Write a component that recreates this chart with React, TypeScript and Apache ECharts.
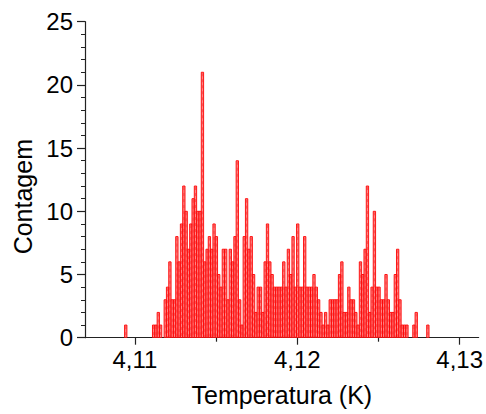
import React, { useEffect, useRef } from "react";
import * as echarts from "echarts";

// Histogram bins (temperature, K)
const BIN_START = 4.109368;
const BIN_WIDTH = 0.0001431;
const COUNTS: number[] = [
  1,
  0, 0, 0, 0, 0, 0, 0, 0, 0, 0, 0,
  1, 1, 2, 1, 0,
  3, 4, 6, 3, 3, 8, 6,
  9, 12, 10, 7, 9, 11, 12, 10, 10,
  21,
  6, 7, 8, 7, 9, 8, 5, 4, 7, 7, 3, 7, 6, 8,
  14,
  3, 1, 8, 11, 7, 8, 5, 2, 4, 4, 2, 6, 9,
  6, 5, 4, 4, 4, 4, 6, 4, 7, 5, 8, 4, 9, 4, 4, 8, 4, 4, 4, 5,
  4, 3, 2, 1, 2, 1, 3, 3, 3, 3, 5, 6, 2, 2, 4, 3, 3, 2, 1, 6, 5, 7, 12, 2, 4, 10,
  4, 4, 3, 3, 5, 3, 2, 2, 5, 7, 3, 1, 1, 1, 0, 0, 1, 2, 0, 0, 0, 0, 1,
];

const X_MIN = 4.10693;
const X_MAX = 4.13117;
const X_MAJOR = [4.11, 4.12, 4.13];
const X_MINOR = [4.115, 4.125];
const Y_MIN = 0;
const Y_MAX = 25;
const Y_INTERVAL = 5;

const X_TITLE = "Temperatura (K)";
const Y_TITLE = "Contagem";

const FONT = "'Liberation Sans', Arial, Helvetica, sans-serif";

export default function App() {
  const ref = useRef<HTMLDivElement>(null);

  useEffect(() => {
    if (!ref.current) return;
    const chart = echarts.init(ref.current, undefined, { renderer: "svg" });
    const data = COUNTS.map((c, i) => [BIN_START + i * BIN_WIDTH, c]);
    const axisColor = "#222";
    chart.setOption({
      animation: false,
      backgroundColor: "#ffffff",
      grid: { left: 85, top: 21.7, right: 6, bottom: 76.3, containLabel: false },
      xAxis: [
        {
          type: "value",
          min: X_MIN,
          max: X_MAX,
          name: X_TITLE,
          nameLocation: "middle",
          nameGap: 45,
          nameTextStyle: { fontSize: 25, fontFamily: FONT, color: "#000" },
          axisLine: { show: true, onZero: false, lineStyle: { color: axisColor, width: 1.2 } },
          axisTick: { show: true, length: 7, customValues: X_MAJOR, lineStyle: { color: axisColor, width: 1.2 } },
          axisLabel: {
            show: true,
            customValues: X_MAJOR,
            margin: 10,
            fontSize: 24,
            fontFamily: FONT,
            color: "#000",
            formatter: (v: number) => v.toFixed(2).replace(".", ","),
          },
          splitLine: { show: false },
        },
        {
          type: "value",
          min: X_MIN,
          max: X_MAX,
          position: "bottom",
          axisLine: { show: false },
          axisTick: { show: true, length: 4, customValues: X_MINOR, lineStyle: { color: axisColor, width: 1.2 } },
          axisLabel: { show: false },
          splitLine: { show: false },
        },
      ],
      yAxis: {
        type: "value",
        min: Y_MIN,
        max: Y_MAX,
        interval: Y_INTERVAL,
        name: Y_TITLE,
        nameLocation: "middle",
        nameGap: 47,
        nameTextStyle: { fontSize: 25, fontFamily: FONT, color: "#000", padding: [0, 34, 0, 0] },
        axisLine: { show: true, onZero: false, lineStyle: { color: axisColor, width: 1.2 } },
        axisTick: { show: true, length: 8, lineStyle: { color: axisColor, width: 1.2 } },
        minorTick: { show: true, splitNumber: 5, length: 4, lineStyle: { color: axisColor, width: 1 } },
        axisLabel: { margin: 12, fontSize: 24, fontFamily: FONT, color: "#000" },
        splitLine: { show: false },
        minorSplitLine: { show: false },
      },
      series: [
        {
          type: "custom",
          xAxisIndex: 0,
          yAxisIndex: 0,
          encode: { x: 0, y: 1 },
          data,
          clip: true,
          renderItem: (params: any, api: any) => {
            const start = api.value(0);
            const cnt = api.value(1);
            if (!cnt) return null;
            const p0 = api.coord([start, 0]);
            const p1 = api.coord([start + BIN_WIDTH, cnt]);
            const x = p0[0];
            const w = p1[0] - p0[0];
            const y = p1[1];
            const h = p0[1] - p1[1];
            return {
              type: "group",
              children: [
                {
                  type: "rect",
                  shape: { x, y, width: w, height: h },
                  style: { fill: "rgba(255,110,110,0.85)", stroke: "#ff0000", lineWidth: 0.9 },
                },
                {
                  type: "line",
                  shape: { x1: x + w / 2, y1: y + 1, x2: x + w / 2, y2: y + h },
                  style: { stroke: "rgba(230,0,0,0.6)", lineWidth: 0.6, lineDash: [3, 3] },
                },
              ],
            };
          },
        },
      ],
    });
    return () => chart.dispose();
  }, []);

  return (
    <div
      ref={ref}
      style={{ position: "fixed", left: 0, top: 0, width: 486, height: 414, background: "#fff" }}
    />
  );
}
